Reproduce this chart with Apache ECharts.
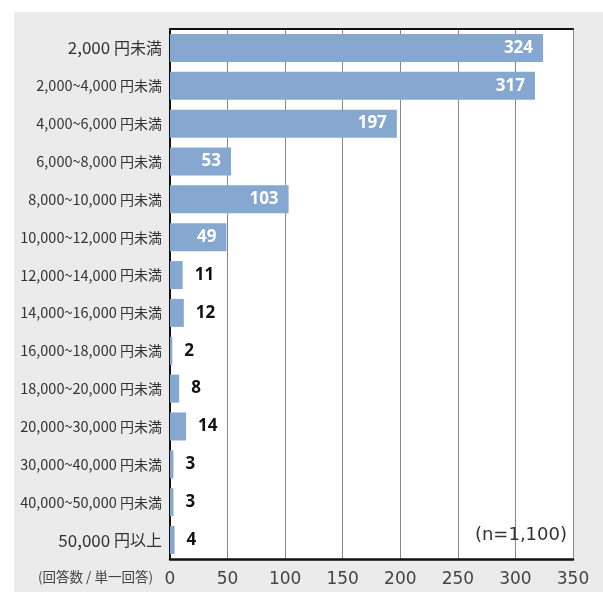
<!DOCTYPE html>
<html>
<head>
<meta charset="utf-8">
<script src="https://cdn.jsdelivr.net/npm/echarts@6/dist/echarts.min.js"></script>
<style>
  html, body { margin: 0; padding: 0; background: #fff; }
  #chart { width: 603px; height: 592px; }
</style>
</head>
<body>
<div id="chart"></div>
<script>
// Price ranges (top to bottom) and number of responses
const categories = [
  '2,000 円未満',
  '2,000~4,000 円未満',
  '4,000~6,000 円未満',
  '6,000~8,000 円未満',
  '8,000~10,000 円未満',
  '10,000~12,000 円未満',
  '12,000~14,000 円未満',
  '14,000~16,000 円未満',
  '16,000~18,000 円未満',
  '18,000~20,000 円未満',
  '20,000~30,000 円未満',
  '30,000~40,000 円未満',
  '40,000~50,000 円未満',
  '50,000 円以上'
];
const counts = [324, 317, 197, 53, 103, 49, 11, 12, 2, 8, 14, 3, 3, 4];
const xTicks = [0, 50, 100, 150, 200, 250, 300, 350];
const sampleNote = '(n=1,100)';
const unitNote = '(回答数 / 単一回答)';

const BAR = '#86a8d0';
const JP = '"Noto Sans CJK JP", "Noto Sans", sans-serif';
const NUM = '"DejaVu Sans", sans-serif';

// Long values carry their label inside the bar, short ones beside it
const barData = counts.map(v => ({
  value: v,
  label: v >= 40
    ? { position: 'insideRight', color: '#fff', distance: 10 }
    : { position: 'right', color: '#111', distance: 12 }
}));

// Single-bound ranges are set a size larger than the "from~to" ranges
function rangeLabel(val, i) {
  const cut = val.indexOf(' ');
  const num = val.slice(0, cut + 1);
  const yen = val.slice(cut + 1);
  const wide = (i === 0 || i === categories.length - 1);
  return wide ? '{w|' + num + '}{wy|' + yen + '}' : '{n|' + num + '}{ny|' + yen + '}';
}

const chart = echarts.init(document.getElementById('chart'), null, { renderer: 'canvas' });
chart.setOption({
  backgroundColor: '#fff',
  animation: false,
  graphic: {
    elements: [
      {
        type: 'rect', z: -100, silent: true,
        shape: { x: 14, y: 12, width: 603 - 14, height: 592 - 12 },
        style: { fill: '#ebebec' }
      },
      {
        type: 'text', right: 36, top: 526, z: 10,
        style: { text: sampleNote, font: '18px ' + NUM, fill: '#333' }
      },
      {
        type: 'text', left: 38, top: 570, z: 10,
        style: { text: unitNote, font: '13.5px ' + JP, fill: '#444' }
      }
    ]
  },
  grid: {
    left: 170, right: 30, top: 29, bottom: 33,
    containLabel: false, outerBoundsMode: 'none',
    show: true, backgroundColor: '#fff', borderWidth: 0
  },
  xAxis: [
    {
      type: 'value', min: xTicks[0], max: xTicks[xTicks.length - 1], interval: 50,
      axisLine: { show: true, lineStyle: { color: '#111', width: 2.5 } },
      axisTick: { show: false },
      axisLabel: { color: '#444', fontFamily: NUM, fontSize: 17, margin: 12 },
      splitLine: { show: true, lineStyle: { color: '#888', width: 1 } }
    },
    {
      type: 'value', position: 'top', min: xTicks[0], max: xTicks[xTicks.length - 1],
      axisLine: { show: true, onZero: false, lineStyle: { color: '#111', width: 2 } },
      axisTick: { show: false }, axisLabel: { show: false }, splitLine: { show: false }
    }
  ],
  yAxis: {
    type: 'category', data: categories, inverse: true,
    axisLine: { show: true, lineStyle: { color: '#111', width: 2 } },
    axisTick: { show: false },
    axisLabel: {
      margin: 8,
      formatter: rangeLabel,
      rich: {
        w: { fontFamily: JP, fontSize: 17, color: '#333' },
        wy: { fontFamily: JP, fontSize: 16, color: '#333' },
        n: { fontFamily: JP, fontSize: 14.5, color: '#333' },
        ny: { fontFamily: JP, fontSize: 14, color: '#333' }
      }
    }
  },
  series: [{
    type: 'bar', xAxisIndex: 0, data: barData, barWidth: 28,
    itemStyle: { color: BAR },
    label: { show: true, fontFamily: '"Noto Sans", sans-serif', fontWeight: 'bold', fontSize: 17 }
  }]
});
</script>
</body>
</html>
